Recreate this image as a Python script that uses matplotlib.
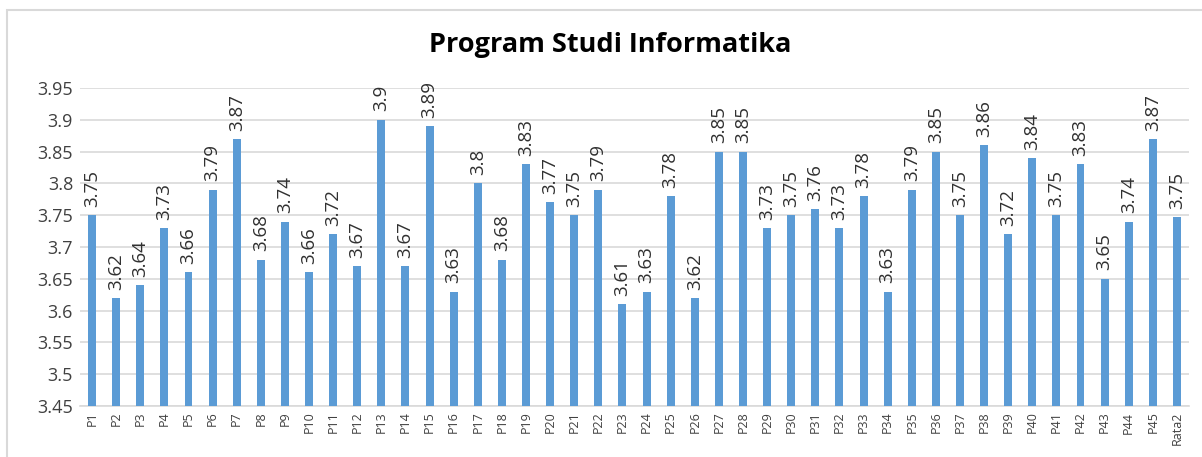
import matplotlib.pyplot as plt
from matplotlib.patches import Rectangle

labels = [f"P{i}" for i in range(1, 46)] + ["Rata2"]
values = [3.75, 3.62, 3.64, 3.73, 3.66, 3.79, 3.87, 3.68, 3.74, 3.66,
          3.72, 3.67, 3.90, 3.67, 3.89, 3.63, 3.80, 3.68, 3.83, 3.77,
          3.75, 3.79, 3.61, 3.63, 3.78, 3.62, 3.85, 3.85, 3.73, 3.75,
          3.76, 3.73, 3.78, 3.63, 3.79, 3.85, 3.75, 3.86, 3.72, 3.84,
          3.75, 3.83, 3.65, 3.74, 3.87, 3.747]
value_text = [f"{round(v, 2):g}" for v in values]
yticks = [3.45, 3.5, 3.55, 3.6, 3.65, 3.7, 3.75, 3.8, 3.85, 3.9, 3.95]
ytick_text = ["3.45", "3.5", "3.55", "3.6", "3.65", "3.7", "3.75", "3.8", "3.85", "3.9", "3.95"]

plt.rcParams['font.family'] = ['Open Sans', 'DejaVu Sans']

W, H = 1202, 457
fig = plt.figure(figsize=(W / 100, H / 100), dpi=100)
fig.patches.append(Rectangle((7 / W, -0.1), 1.2, 1 - 10 / H + 0.1, transform=fig.transFigure,
                             fill=False, edgecolor="#d9d9d9", linewidth=1.5))
ax = fig.add_axes([80 / W, 1 - 406 / H, (1189 - 80) / W, (406 - 88) / H])

x = list(range(len(values)))
ax.bar(x, values, width=0.33, color="#5b9bd5", zorder=3)
ax.set_ylim(3.45, 3.95)
ax.set_xlim(-0.5, len(values) - 0.5)
ax.set_yticks(yticks)
ax.set_yticklabels(ytick_text, fontsize=13, color="#404040")
ax.set_xticks(x)
ax.set_xticklabels(labels, rotation=90, fontsize=9, color="#404040")
ax.tick_params(length=0, pad=5)
ax.tick_params(axis="x", pad=4)
ax.grid(axis="y", color="#d9d9d9", linewidth=1.2, zorder=0)
for s in ["top", "right", "left"]:
    ax.spines[s].set_visible(False)
ax.spines["bottom"].set_color("#d9d9d9")
ax.spines["bottom"].set_linewidth(1.2)

for xi, v, t in zip(x, values, value_text):
    ax.annotate(t, (xi, v), xytext=(0, 6), textcoords="offset points",
                rotation=90, ha="center", va="bottom", fontsize=13.5, color="#303030")

fig.text(610 / W, 1 - 45 / H, "Program Studi Informatika", ha="center", va="center",
         fontsize=19.5, fontweight="bold", color="black")

fig.savefig("out.png", dpi=100)
